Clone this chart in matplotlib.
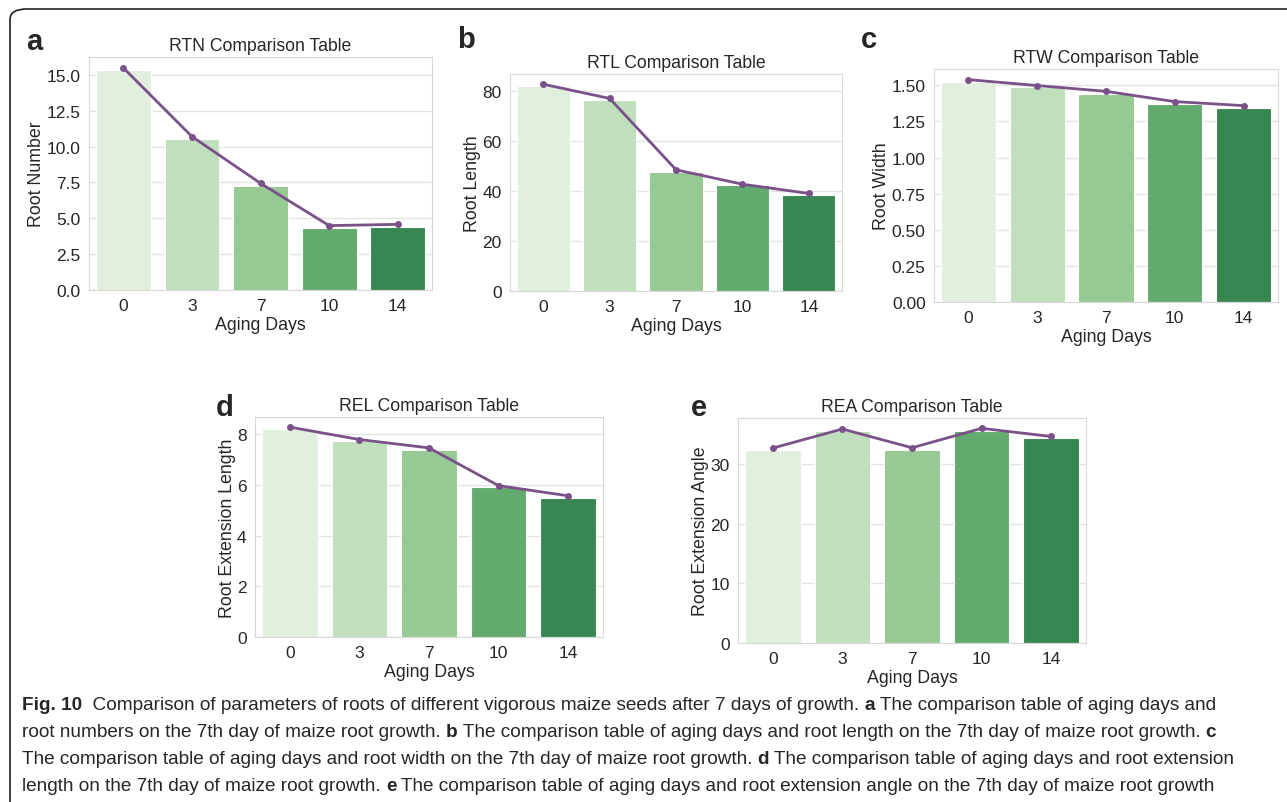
import numpy as np
import matplotlib
matplotlib.use("Agg")
import matplotlib.pyplot as plt
import seaborn as sns
from matplotlib.patches import FancyBboxPatch

sns.set_style("whitegrid")
plt.rcParams['font.family'] = ['Liberation Sans', 'DejaVu Sans']

days = ["0", "3", "7", "10", "14"]

# bar heights and line (mean) values per panel
rtn_bar = [15.35, 10.55, 7.25, 4.35, 4.42]
rtn_line = [15.49, 10.7, 7.44, 4.49, 4.58]
rtl_bar = [82.1, 76.5, 47.9, 42.3, 38.3]
rtl_line = [82.9, 77.2, 48.6, 42.8, 39.1]
rtw_bar = [1.525, 1.488, 1.442, 1.371, 1.343]
rtw_line = [1.539, 1.498, 1.458, 1.387, 1.359]
rel_bar = [8.2, 7.72, 7.38, 5.91, 5.49]
rel_line = [8.28, 7.79, 7.46, 5.97, 5.57]
rea_bar = [32.4, 35.6, 32.5, 35.7, 34.4]
rea_line = [32.75, 35.95, 32.8, 36.06, 34.7]

panels = [
    ("a", "RTN Comparison Table", "Root Number", rtn_bar, rtn_line,
     [0.0692, 0.6376, 0.2665, 0.2902], 16.25, np.arange(0, 15.1, 2.5), "{:.1f}"),
    ("b", "RTL Comparison Table", "Root Length", rtl_bar, rtl_line,
     [0.3963, 0.6364, 0.2580, 0.2702], 87.0, np.arange(0, 81, 20), "{:.0f}"),
    ("c", "RTW Comparison Table", "Root Width", rtw_bar, rtw_line,
     [0.7257, 0.6227, 0.2673, 0.2902], 1.613, np.arange(0, 1.51, 0.25), "{:.2f}"),
    ("d", "REL Comparison Table", "Root Extension Length", rel_bar, rel_line,
     [0.1981, 0.2055, 0.2704, 0.2740], 8.68, np.arange(0, 8.1, 2), "{:.0f}"),
    ("e", "REA Comparison Table", "Root Extension Angle", rea_bar, rea_line,
     [0.5734, 0.1980, 0.2704, 0.2802], 37.8, np.arange(0, 31, 10), "{:.0f}"),
]

# muted greens as seen in the figure
colors = ["#e2efdf", "#bfdfbd", "#96c993", "#62aa6e", "#388651"]
line_col = "#7b5189"

fig = plt.figure(figsize=(12.87, 8.03), dpi=100)

# rounded frame around the figure
frame = FancyBboxPatch((10 / 1287, -0.05), 1.1, 1 - 10 / 803 + 0.05,
                       boxstyle="round,pad=0,rounding_size=0.013",
                       transform=fig.transFigure, fill=False,
                       edgecolor="#222222", linewidth=1.2)
fig.patches.append(frame)

x = np.arange(len(days))
for letter, title, ylab, bars, line, pos, ytop, yt, fmt in panels:
    ax = fig.add_axes(pos)
    ax.bar(x, bars, width=0.8, color=colors, edgecolor="white", linewidth=0.8, zorder=2)
    ax.plot(x, line, color=line_col, lw=2, marker="o", ms=4, zorder=3)
    ax.set_xlim(-0.5, 4.5)
    ax.set_ylim(0, ytop)
    ax.set_xticks(x)
    ax.set_xticklabels(days)
    ax.set_yticks(yt)
    ax.set_yticklabels([fmt.format(v) for v in yt])
    ax.grid(axis="x", visible=False)
    ax.grid(axis="y", color="#e3e3e3", lw=1)
    ax.set_axisbelow(True)
    for s in ax.spines.values():
        s.set_color("#d8d8d8")
    ax.tick_params(length=0, labelsize=12.5, pad=6)
    ax.set_title(title, fontsize=12.7, pad=5)
    ax.set_xlabel("Aging Days", fontsize=12.8, labelpad=2)
    ax.set_ylabel(ylab, fontsize=12.8, labelpad=1)

# panel letters
for letter, px, py in [("a", 26, 42), ("b", 457, 40), ("c", 861, 40),
                       ("d", 216, 408), ("e", 691, 408)]:
    fig.text(px / 1287, 1 - py / 803, letter, fontsize=21, fontweight="bold",
             va="center", ha="left")

# caption
cap = [
    [("Fig. 10", True), ("  Comparison of parameters of roots of different vigorous maize seeds after 7 days of growth. ", False),
     ("a", True), (" The comparison table of aging days and", False)],
    [("root numbers on the 7th day of maize root growth. ", False), ("b", True),
     (" The comparison table of aging days and root length on the 7th day of maize root growth. ", False), ("c", True)],
    [("The comparison table of aging days and root width on the 7th day of maize root growth. ", False), ("d", True),
     (" The comparison table of aging days and root extension", False)],
    [("length on the 7th day of maize root growth. ", False), ("e", True),
     (" The comparison table of aging days and root extension angle on the 7th day of maize root growth", False)],
]
cap_family = ['Liberation Sans Narrow', 'Liberation Sans', 'DejaVu Sans']
fig.canvas.draw()
renderer = fig.canvas.get_renderer()
ys = [706, 733, 760, 787]
for parts, yy in zip(cap, ys):
    xx = 22
    for txt, bold in parts:
        t = fig.text(xx / 1287, 1 - yy / 803, txt, fontsize=13.7, family=cap_family,
                     fontweight="bold" if bold else "normal", va="center", ha="left")
        bb = t.get_window_extent(renderer=renderer)
        xx += bb.width

fig.savefig("out.png", dpi=100)
